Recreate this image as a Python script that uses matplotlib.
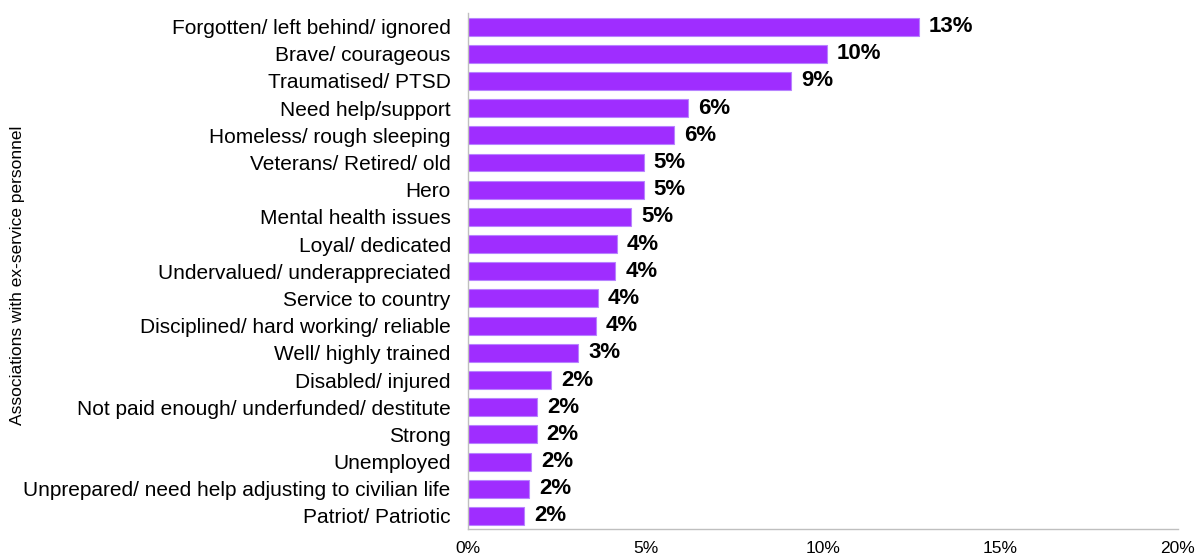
import matplotlib
matplotlib.use("Agg")
import matplotlib.pyplot as plt
from matplotlib.ticker import FuncFormatter

plt.rcParams['font.family'] = ['Liberation Sans', 'DejaVu Sans']

categories = [
    "Forgotten/ left behind/ ignored",
    "Brave/ courageous",
    "Traumatised/ PTSD",
    "Need help/support",
    "Homeless/ rough sleeping",
    "Veterans/ Retired/ old",
    "Hero",
    "Mental health issues",
    "Loyal/ dedicated",
    "Undervalued/ underappreciated",
    "Service to country",
    "Disciplined/ hard working/ reliable",
    "Well/ highly trained",
    "Disabled/ injured",
    "Not paid enough/ underfunded/ destitute",
    "Strong",
    "Unemployed",
    "Unprepared/ need help adjusting to civilian life",
    "Patriot/ Patriotic",
]
shares = [12.7, 10.1, 9.1, 6.2, 5.8, 4.95, 4.95, 4.6, 4.2, 4.15,
          3.65, 3.6, 3.1, 2.35, 1.95, 1.93, 1.78, 1.72, 1.58]
x_ticks = [0, 5, 10, 15, 20]

fig = plt.figure(figsize=(11.96, 5.56), dpi=100)
ax = fig.add_axes([0.3913, 0.0486, 0.5936, 0.928])

ypos = list(range(len(categories)))
ax.barh(ypos, shares, height=0.66, color="#9F2DFF",
        edgecolor="#B883FF", linewidth=0.8)

for y, v in zip(ypos, shares):
    ax.text(v + 0.28, y, f"{v:.0f}%", va="center", ha="left",
            fontsize=16, fontweight="bold", color="black")

ax.set_yticks(ypos)
ax.set_yticklabels(categories, fontsize=15)
ax.set_ylim(len(categories) - 0.52, -0.5)
ax.set_xlim(0, 20)
ax.set_xticks(x_ticks)
ax.xaxis.set_major_formatter(FuncFormatter(lambda v, p: f"{v:.0f}%"))
ax.tick_params(axis="x", length=0, labelsize=12.5, pad=9)
ax.tick_params(axis="y", length=0, pad=12.5)

for s in ["top", "right"]:
    ax.spines[s].set_visible(False)
for s in ["left", "bottom"]:
    ax.spines[s].set_color("#BFBFBF")
    ax.spines[s].set_linewidth(1.0)

fig.text(0.015, 0.505, "Associations with ex-service personnel",
         rotation=90, va="center", ha="center", fontsize=12.5)

fig.savefig("out.png", dpi=100)
